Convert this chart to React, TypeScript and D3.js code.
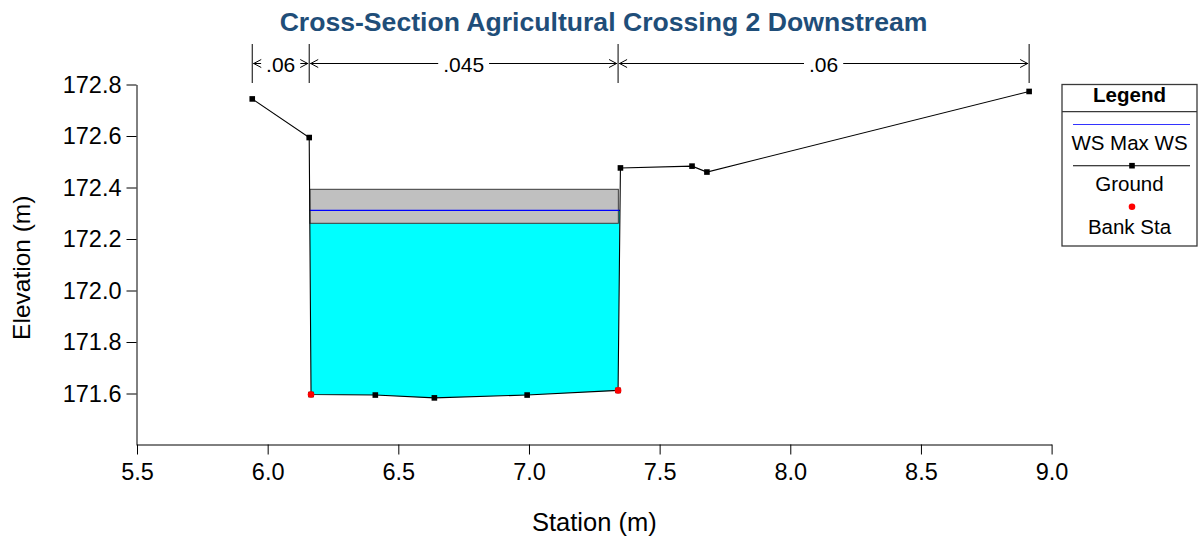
import React, { useEffect, useRef } from "react";
import * as d3 from "d3";

const W = 1199;
const H = 540;
const FONT = "'Liberation Sans', Arial, Helvetica, sans-serif";

// Ground survey points (station m, elevation m)
const groundStation = [5.941, 6.159, 6.166, 6.412, 6.638, 6.993, 7.341, 7.35, 7.624, 7.681, 8.914];
const groundElev = [172.744, 172.594, 171.596, 171.594, 171.583, 171.594, 171.612, 172.476, 172.483, 172.46, 172.773];

// Bank stations
const bankStations = [6.166, 7.341];

// Water surface and bridge deck
const wsMax = 172.311;
const deckStations = [6.162, 7.342];
const deckLowChord = 172.261;
const deckHighChord = 172.393;

// Manning's n breaks and values
const manningBreaks = [5.941, 6.159, 7.341, 8.914];
const manningN = [".06", ".045", ".06"];

// Axis ticks
const xTicks = [5.5, 6.0, 6.5, 7.0, 7.5, 8.0, 8.5, 9.0];
const yTicks = [171.6, 171.8, 172.0, 172.2, 172.4, 172.6, 172.8];

const interpElev = (s: number) => {
  for (let i = 0; i < groundStation.length - 1; i++) {
    const a = groundStation[i], b = groundStation[i + 1];
    if (s >= a && s <= b) {
      const t = b === a ? 0 : (s - a) / (b - a);
      return groundElev[i] + t * (groundElev[i + 1] - groundElev[i]);
    }
  }
  return NaN;
};

// Wetted polygon: the part of the cross-section below the water surface
function wettedPolygon(ws: number): [number, number][] {
  const pts: [number, number][] = [];
  for (let i = 0; i < groundStation.length - 1; i++) {
    const s0 = groundStation[i], e0 = groundElev[i];
    const s1 = groundStation[i + 1], e1 = groundElev[i + 1];
    const below0 = e0 <= ws, below1 = e1 <= ws;
    if (below0) pts.push([s0, e0]);
    if (below0 !== below1) {
      const t = (ws - e0) / (e1 - e0);
      pts.push([s0 + t * (s1 - s0), ws]);
    }
  }
  const last = groundStation.length - 1;
  if (groundElev[last] <= ws) pts.push([groundStation[last], groundElev[last]]);
  return pts;
}

export default function App() {
  const ref = useRef<SVGSVGElement>(null);

  useEffect(() => {
    const svg = d3.select(ref.current);
    svg.selectAll("*").remove();

    const x = d3.scaleLinear().domain([5.5, 9.0]).range([137, 1051.6]);
    const y = d3.scaleLinear().domain([171.4, 172.8]).range([445, 84.5]);

    // Title
    svg.append("text")
      .attr("x", 603.5).attr("y", 31)
      .attr("text-anchor", "middle")
      .attr("font-family", FONT).attr("font-weight", "bold")
      .attr("font-size", 26.6).attr("fill", "#1F4E79")
      .text("Cross-Section Agricultural Crossing 2 Downstream");

    // Water fill
    const wet = wettedPolygon(wsMax);
    svg.append("path")
      .attr("d", d3.line<[number, number]>().x(d => x(d[0])).y(d => y(d[1]))(wet) + "Z")
      .attr("fill", "#00FFFF").attr("stroke", "none");

    // Bridge deck
    svg.append("rect")
      .attr("x", x(deckStations[0])).attr("y", y(deckHighChord))
      .attr("width", x(deckStations[1]) - x(deckStations[0]))
      .attr("height", y(deckLowChord) - y(deckHighChord))
      .attr("fill", "#C0C0C0").attr("stroke", "#3a3a3a").attr("stroke-width", 1);

    // Water surface line
    const wsL = wet[0][0], wsR = wet[wet.length - 1][0];
    svg.append("line")
      .attr("x1", x(wsL)).attr("x2", x(wsR)).attr("y1", y(wsMax)).attr("y2", y(wsMax))
      .attr("stroke", "#0000FF").attr("stroke-width", 1.2);

    // Ground line and markers
    const ground = groundStation.map((s, i) => [s, groundElev[i]] as [number, number]);
    svg.append("path")
      .attr("d", d3.line<[number, number]>().x(d => x(d[0])).y(d => y(d[1]))(ground))
      .attr("fill", "none").attr("stroke", "#000").attr("stroke-width", 1.1);
    svg.append("g").selectAll("rect").data(ground).join("rect")
      .attr("x", d => x(d[0]) - 2.8).attr("y", d => y(d[1]) - 2.8)
      .attr("width", 5.6).attr("height", 5.6).attr("fill", "#000");

    // Bank stations
    svg.append("g").selectAll("circle").data(bankStations).join("circle")
      .attr("cx", d => x(d)).attr("cy", d => y(interpElev(d)))
      .attr("r", 3.3).attr("fill", "#FF0000");

    // X axis
    const xMinor = d3.range(56, 91).map(v => v / 10).filter(v => Math.abs(v * 2 - Math.round(v * 2)) > 1e-6);
    const gx = svg.append("g").attr("transform", "translate(0,444.5)");
    gx.call(d3.axisBottom(x).tickValues(xMinor).tickSize(6).tickSizeOuter(0).tickFormat(() => ""));
    gx.call(d3.axisBottom(x).tickValues(xTicks).tickSize(10).tickSizeOuter(0).tickPadding(9).tickFormat(d3.format(".1f")) as any);

    // Y axis
    const yMinor = d3.range(0, 36).map(i => 171.4 + i * 0.04).filter(v => Math.abs(v * 5 - Math.round(v * 5)) > 1e-6);
    const gy = svg.append("g").attr("transform", "translate(136.5,0)");
    gy.call(d3.axisLeft(y).tickValues(yMinor).tickSize(5).tickSizeOuter(0).tickFormat(() => ""));
    gy.call(d3.axisLeft(y).tickValues(yTicks).tickSize(10).tickSizeOuter(0).tickPadding(5).tickFormat(d3.format(".1f")) as any);

    svg.selectAll(".tick text").attr("font-family", FONT).attr("font-size", 23.5).attr("fill", "#000");
    svg.selectAll(".domain, .tick line").attr("stroke", "#000").attr("stroke-width", 1);

    // Axis titles
    svg.append("text")
      .attr("x", x(7.25)).attr("y", 531)
      .attr("text-anchor", "middle").attr("font-family", FONT).attr("font-size", 25.5)
      .text("Station (m)");
    svg.append("text")
      .attr("transform", `translate(30,${(y(171.4) + y(172.8)) / 2 + 3}) rotate(-90)`)
      .attr("text-anchor", "middle").attr("font-family", FONT).attr("font-size", 24.5)
      .text("Elevation (m)");

    // Manning's n bar
    const ny = 63.5;
    const nTop = 44, nBot = 83;
    const gn = svg.append("g").attr("stroke", "#000").attr("fill", "none").attr("stroke-width", 1);
    manningBreaks.forEach(s => {
      gn.append("line").attr("x1", x(s)).attr("x2", x(s)).attr("y1", nTop).attr("y2", nBot);
    });
    manningN.forEach((label, i) => {
      const a = x(manningBreaks[i]), b = x(manningBreaks[i + 1]);
      const mid = (a + b) / 2;
      const t = svg.append("text")
        .attr("x", mid).attr("y", ny + 8.5)
        .attr("text-anchor", "middle").attr("font-family", FONT).attr("font-size", 21)
        .attr("fill", "#000").text(label);
      const bb = (t.node() as SVGTextElement).getBBox();
      const g0 = bb.x - 5, g1 = bb.x + bb.width + 5;
      if (g0 > a + 1) gn.append("line").attr("x1", a + 1).attr("x2", g0).attr("y1", ny).attr("y2", ny);
      if (g1 < b - 1) gn.append("line").attr("x1", g1).attr("x2", b - 1).attr("y1", ny).attr("y2", ny);
      gn.append("path").attr("d", `M${a + 9},${ny - 4}L${a + 1.5},${ny}L${a + 9},${ny + 4}`);
      gn.append("path").attr("d", `M${b - 9},${ny - 4}L${b - 1.5},${ny}L${b - 9},${ny + 4}`);
    });

    // Legend
    const lg = svg.append("g");
    const lx0 = 1062, lx1 = 1197, ly0 = 84.5, ly1 = 246;
    const lcx = (lx0 + lx1) / 2;
    lg.append("rect").attr("x", lx0).attr("y", ly0).attr("width", lx1 - lx0).attr("height", ly1 - ly0)
      .attr("fill", "#fff").attr("stroke", "#3a3a3a").attr("stroke-width", 1.3);
    lg.append("line").attr("x1", lx0).attr("x2", lx1).attr("y1", 111.7).attr("y2", 111.7)
      .attr("stroke", "#3a3a3a").attr("stroke-width", 1.3);
    lg.append("text").attr("x", lcx).attr("y", 102).attr("text-anchor", "middle")
      .attr("font-family", FONT).attr("font-weight", "bold").attr("font-size", 20.5).text("Legend");
    lg.append("line").attr("x1", 1073).attr("x2", 1190).attr("y1", 124.5).attr("y2", 124.5)
      .attr("stroke", "#3333FF").attr("stroke-width", 1.2);
    lg.append("text").attr("x", lcx).attr("y", 150).attr("text-anchor", "middle")
      .attr("font-family", FONT).attr("font-size", 20.5).text("WS Max WS");
    lg.append("line").attr("x1", 1073).attr("x2", 1190).attr("y1", 165.7).attr("y2", 165.7)
      .attr("stroke", "#000").attr("stroke-width", 1.1);
    lg.append("rect").attr("x", 1132 - 2.8).attr("y", 165.7 - 2.8).attr("width", 5.6).attr("height", 5.6).attr("fill", "#000");
    lg.append("text").attr("x", lcx).attr("y", 190.5).attr("text-anchor", "middle")
      .attr("font-family", FONT).attr("font-size", 20.5).text("Ground");
    lg.append("circle").attr("cx", 1132).attr("cy", 206.7).attr("r", 3.3).attr("fill", "#FF0000");
    lg.append("text").attr("x", lcx).attr("y", 233.5).attr("text-anchor", "middle")
      .attr("font-family", FONT).attr("font-size", 20.5).text("Bank Sta");
  }, []);

  return (
    <svg
      ref={ref}
      width={W}
      height={H}
      style={{ position: "absolute", left: 0, top: 0, background: "#fff" }}
    />
  );
}
